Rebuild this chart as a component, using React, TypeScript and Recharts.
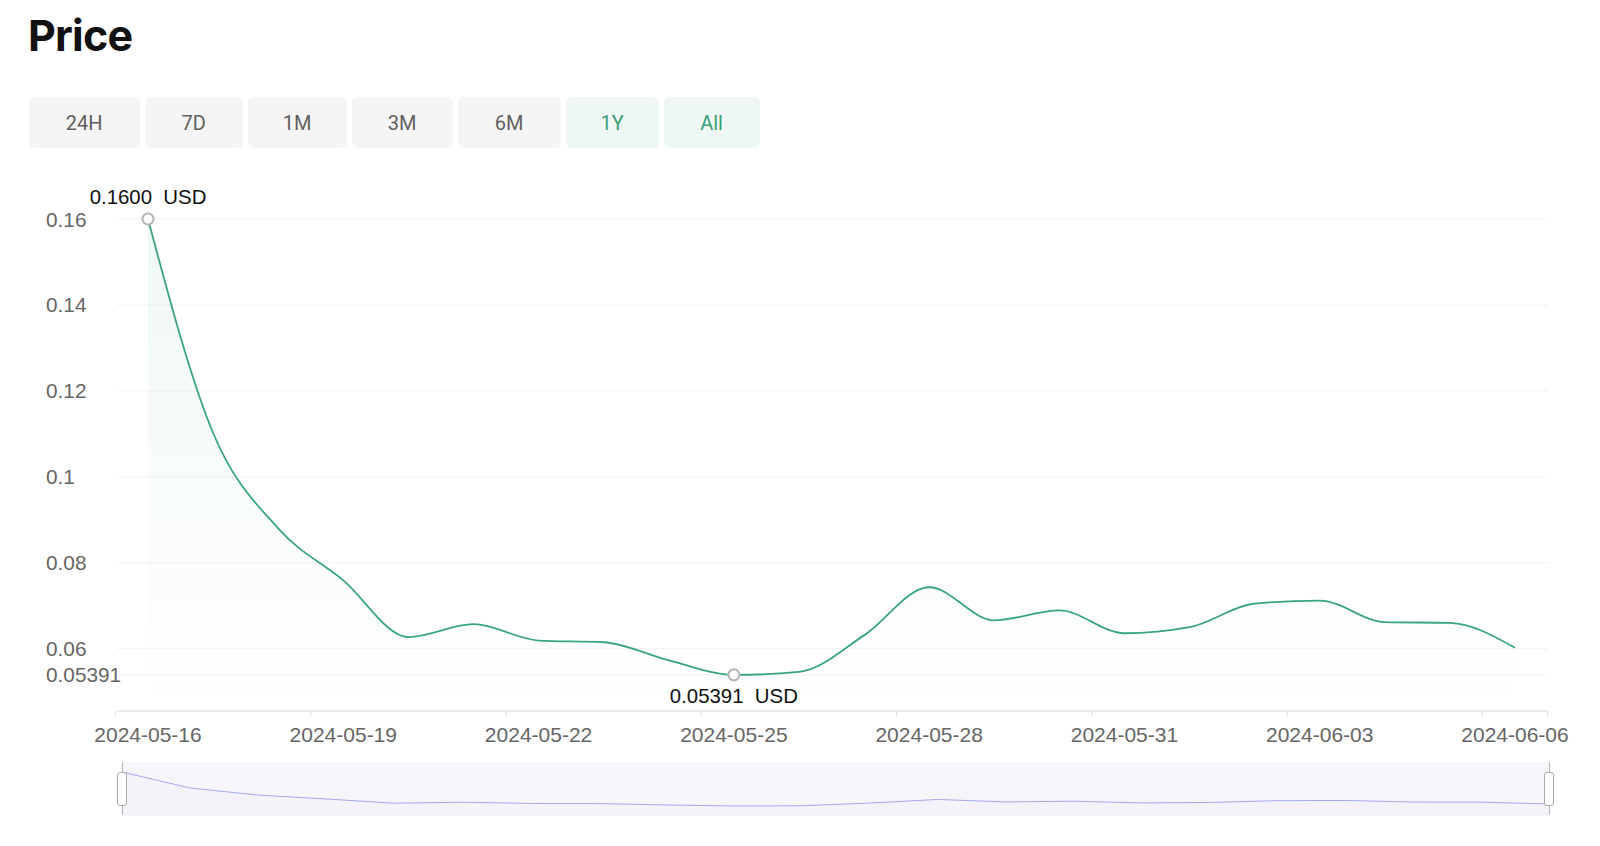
import React from "react";
import {
  AreaChart,
  Area,
  XAxis,
  YAxis,
  CartesianGrid,
} from "recharts";

const dates = [
  "2024-05-16", "2024-05-17", "2024-05-18", "2024-05-19", "2024-05-20",
  "2024-05-21", "2024-05-22", "2024-05-23", "2024-05-24", "2024-05-25",
  "2024-05-26", "2024-05-27", "2024-05-28", "2024-05-29", "2024-05-30",
  "2024-05-31", "2024-06-01", "2024-06-02", "2024-06-03", "2024-06-04",
  "2024-06-05", "2024-06-06",
];

const prices = [
  0.16, 0.1102, 0.088, 0.0759, 0.0627, 0.0657, 0.0619, 0.0615, 0.0573, 0.05391,
  0.0546, 0.0631, 0.0743, 0.0666, 0.0689, 0.0636, 0.065, 0.0705, 0.0712, 0.0662,
  0.066, 0.0602,
];

const yTicks = [0.05391, 0.06, 0.08, 0.1, 0.12, 0.14, 0.16];

const ranges = ["24H", "7D", "1M", "3M", "6M", "1Y", "All"];
const activeRanges = ["1Y", "All"];
const buttonWidths = [111, 98, 99, 101, 103, 93, 96];

const GREEN = "#3aa57e";
const FONT = "'Liberation Sans', Arial, sans-serif";

const data = dates.map((date, i) => ({ date, price: prices[i] }));

const maxIdx = prices.indexOf(Math.max(...prices));
const minIdx = prices.indexOf(Math.min(...prices));

// plot geometry
const PLOT_LEFT = 117;
const PLOT_W = 1431;
const PAD_L = 31;
const PAD_R = 33;
const STEP = (PLOT_W - PAD_L - PAD_R) / (dates.length - 1);

function YTick(props: any) {
  const { y, payload } = props;
  return (
    <text
      x={46}
      y={y}
      textAnchor="start"
      dominantBaseline="central"
      fontSize={20.8}
      fill="#666"
      fontFamily={FONT}
    >
      {String(payload.value)}
    </text>
  );
}

function XTick(props: any) {
  const { x, y, payload } = props;
  const half = STEP / 2;
  const isLast = payload.index === dates.length - 1;
  return (
    <g>
      <line x1={x - half} x2={x - half} y1={y} y2={y + 5} stroke="#ddd" />
      {isLast && (
        <line x1={x + half} x2={x + half} y1={y} y2={y + 5} stroke="#ddd" />
      )}
      <text
        x={x}
        y={y + 23}
        textAnchor="middle"
        dominantBaseline="central"
        fontSize={21}
        fill="#666"
        fontFamily={FONT}
      >
        {payload.value}
      </text>
    </g>
  );
}

function renderDot(props: any) {
  const { cx, cy, index } = props;
  if (index !== maxIdx && index !== minIdx) return <g key={`d${index}`} />;
  const above = index === maxIdx;
  const label = above ? prices[index].toFixed(4) : String(prices[index]);
  return (
    <g key={`d${index}`}>
      <circle cx={cx} cy={cy} r={5.5} fill="#fff" stroke="#b3b3b3" strokeWidth={2} />
      <text
        x={cx}
        y={above ? cy - 22 : cy + 21}
        textAnchor="middle"
        dominantBaseline="central"
        fontSize={20.4}
        fill="#111"
        fontFamily={FONT}
        style={{ whiteSpace: "pre" }}
      >
        {label + "  USD"}
      </text>
    </g>
  );
}

function Handle({ left }: { left: number }) {
  return (
    <>
      <div
        style={{
          position: "absolute",
          left: left - 0.5,
          top: 762,
          width: 1,
          height: 53,
          background: "#b5b5b5",
        }}
      />
      <div
        style={{
          position: "absolute",
          left: left - 5,
          top: 772,
          width: 8,
          height: 32,
          background: "#fff",
          border: "1px solid #aaa",
          borderRadius: 3,
        }}
      />
    </>
  );
}

export default function App() {
  return (
    <div
      style={{
        position: "absolute",
        left: 0,
        top: 0,
        width: 1600,
        height: 846,
        background: "#fff",
        fontFamily: FONT,
      }}
    >
      <div
        style={{
          position: "absolute",
          left: 28,
          top: 14,
          fontFamily: "Inter, sans-serif",
          fontWeight: 700,
          fontSize: 43,
          lineHeight: "43px",
          letterSpacing: -0.8,
          color: "#111",
        }}
      >
        Price
      </div>

      <div
        style={{
          position: "absolute",
          left: 28.6,
          top: 97,
          display: "flex",
          gap: 5,
        }}
      >
        {ranges.map((r, i) => {
          const active = activeRanges.includes(r);
          return (
            <div
              key={r}
              style={{
                width: buttonWidths[i],
                height: 51,
                borderRadius: 6,
                background: active ? "#eef7f3" : "#f5f5f5",
                color: active ? "#3c9f79" : "#606060",
                fontFamily: "Roboto, sans-serif",
                fontSize: 20,
                display: "flex",
                alignItems: "center",
                justifyContent: "center",
              }}
            >
              {r}
            </div>
          );
        })}
      </div>

      <div style={{ position: "absolute", left: 0, top: 160 }}>
        <AreaChart
          width={1600}
          height={600}
          data={data}
          margin={{ top: 59, right: 1600 - PLOT_LEFT - PLOT_W, bottom: 9, left: 0 }}
        >
          <defs>
            <linearGradient id="priceFill" x1="0" y1="0" x2="0" y2="1">
              <stop offset="0%" stopColor={GREEN} stopOpacity={0.13} />
              <stop offset="100%" stopColor={GREEN} stopOpacity={0} />
            </linearGradient>
          </defs>
          <CartesianGrid vertical={false} stroke="#f2f2f2" />
          <XAxis
            dataKey="date"
            interval={2}
            height={40}
            padding={{ left: PAD_L, right: PAD_R }}
            axisLine={{ stroke: "#ddd" }}
            tickLine={false}
            tickSize={0}
            tickMargin={0}
            tick={<XTick />}
          />
          <YAxis
            width={PLOT_LEFT}
            domain={[0.0455, 0.16]}
            ticks={yTicks}
            axisLine={false}
            tickLine={false}
            tick={<YTick />}
          />
          <Area
            type="monotone"
            dataKey="price"
            stroke={GREEN}
            strokeWidth={1.8}
            fill="url(#priceFill)"
            dot={renderDot}
            activeDot={false}
            isAnimationActive={false}
          />
        </AreaChart>
      </div>

      <div
        style={{
          position: "absolute",
          left: 122,
          top: 762,
          width: 1427,
          height: 54,
          background: "#f6f6fa",
        }}
      >
        <AreaChart
          width={1427}
          height={54}
          data={data}
          margin={{ top: 0, right: 0, bottom: 0, left: 0 }}
        >
          <XAxis dataKey="date" hide />
          <YAxis hide domain={[0.0227, 0.1912]} />
          <Area
            type="linear"
            dataKey="price"
            stroke="#a4a8ee"
            strokeWidth={1}
            fill="rgba(160,165,235,0.06)"
            dot={false}
            activeDot={false}
            isAnimationActive={false}
          />
        </AreaChart>
      </div>
      <Handle left={122} />
      <Handle left={1549} />
    </div>
  );
}
